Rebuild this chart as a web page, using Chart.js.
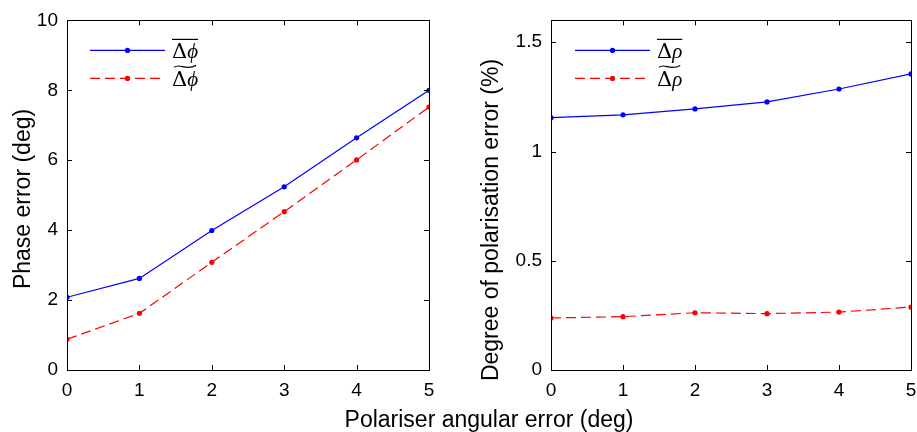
<!DOCTYPE html>
<html>
<head>
<meta charset="utf-8">
<script src="https://cdn.jsdelivr.net/npm/chart.js@4.4.1/dist/chart.umd.min.js"></script>
<style>
  html, body { margin: 0; padding: 0; background: #fff; }
  #wrap { position: relative; width: 917px; height: 432px; overflow: hidden; }
  #left-box { position: absolute; left: 0; top: 0; width: 460px; height: 432px; }
  #right-box { position: absolute; left: 460px; top: 0; width: 457px; height: 432px; }
  .label { position: absolute; font-family: "Liberation Sans", Arial, sans-serif; color: #000; white-space: nowrap; }
  #x-title {
    left: 489px; top: 406px; font-size: 23px; line-height: 26px; width: 400px; text-align: center;
    transform: translateX(-50%);
  }
  .y-title {
    font-size: 23px; line-height: 26px; height: 26px; width: 400px; text-align: center;
    transform: translate(-50%, -50%) rotate(-90deg);
  }
  #y-title-left { left: 22px; top: 199px; }
  #y-title-right { left: 490px; top: 220px; }
</style>
</head>
<body>
<div id="wrap">
  <div id="left-box"><canvas id="phase-chart" width="460" height="432"></canvas></div>
  <div id="right-box"><canvas id="dop-chart" width="457" height="432"></canvas></div>
  <div id="x-title" class="label">Polariser angular error (deg)</div>
  <div id="y-title-left" class="label y-title">Phase error (deg)</div>
  <div id="y-title-right" class="label y-title">Degree of polarisation error (%)</div>
</div>
<script>
// polariser angular error (deg)
const angles = [0, 1, 2, 3, 4, 5];

// phase error (deg)
const phaseMean = [2.08, 2.62, 3.99, 5.24, 6.64, 8.0];
const phaseMedian = [0.88, 1.62, 3.08, 4.53, 6.01, 7.52];
const phaseTicks = [0, 2, 4, 6, 8, 10];

// degree of polarisation error (%)
const dopMean = [1.155, 1.168, 1.195, 1.227, 1.286, 1.355];
const dopMedian = [0.238, 0.244, 0.262, 0.258, 0.265, 0.288];
const dopTicks = [0, 0.5, 1, 1.5];

const FONT = '"Liberation Sans", Arial, sans-serif';

// box around the plot with inward ticks on all four sides
const boxTicks = {
    id: 'boxTicks',
    afterDraw(chart, args, opts) {
        const ctx = chart.ctx;
        const a = chart.chartArea;
        const xs = chart.scales.x, ys = chart.scales.y;
        const len = 5;
        ctx.save();
        ctx.strokeStyle = '#000';
        ctx.lineWidth = 1;
        ctx.strokeRect(Math.round(a.left) + 0.5, Math.round(a.top) + 0.5,
            Math.round(a.right - a.left), Math.round(a.bottom - a.top));
        ctx.beginPath();
        xs.ticks.forEach(t => {
            const px = Math.round(xs.getPixelForValue(t.value)) + 0.5;
            ctx.moveTo(px, a.bottom); ctx.lineTo(px, a.bottom - len);
            ctx.moveTo(px, a.top); ctx.lineTo(px, a.top + len);
        });
        ys.ticks.forEach(t => {
            const py = Math.round(ys.getPixelForValue(t.value)) + 0.5;
            ctx.moveTo(a.left, py); ctx.lineTo(a.left + len, py);
            ctx.moveTo(a.right, py); ctx.lineTo(a.right - len, py);
        });
        ctx.stroke();
        ctx.restore();
    }
};

// legend with overline / tilde symbols
const mathLegend = {
    id: 'mathLegend',
    afterDraw(chart, args, opts) {
        const ctx = chart.ctx;
        const a = chart.chartArea;
        const x0 = a.left + opts.dx, x1 = x0 + 75;
        ctx.save();
        chart.data.datasets.forEach((ds, i) => {
            const y = a.top + opts.dy + i * 28;
            ctx.strokeStyle = ds.borderColor;
            ctx.lineWidth = 1.2;
            ctx.setLineDash(ds.borderDash || []);
            ctx.beginPath(); ctx.moveTo(x0, y); ctx.lineTo(x1, y); ctx.stroke();
            ctx.setLineDash([]);
            ctx.fillStyle = ds.borderColor;
            ctx.beginPath(); ctx.arc((x0 + x1) / 2, y, 2.6, 0, Math.PI * 2); ctx.fill();

            const tx = x1 + 7;
            ctx.fillStyle = '#000';
            ctx.textBaseline = 'alphabetic';
            ctx.font = '21px "DejaVu Serif", serif';
            ctx.fillText('\u0394', tx, y + 8);
            const dw = ctx.measureText('\u0394').width;
            ctx.font = 'italic 21px "Liberation Serif", serif';
            ctx.fillText(opts.symbol, tx + dw, y + 8);
            const sw = ctx.measureText(opts.symbol).width;
            const w = dw + sw;
            ctx.strokeStyle = '#000';
            ctx.lineWidth = 1.2;
            ctx.beginPath();
            if (i === 0) {
                ctx.moveTo(tx, y - 11); ctx.lineTo(tx + w, y - 11);
            } else {
                const ty = y - 12;
                ctx.moveTo(tx + 2, ty + 1);
                ctx.bezierCurveTo(tx + w * 0.3, ty - 4, tx + w * 0.5, ty + 5, tx + w - 2, ty - 1);
            }
            ctx.stroke();
        });
        ctx.restore();
    }
};

function makeChart(id, mean, median, yMax, ticks, opts) {
    return new Chart(document.getElementById(id), {
        type: 'line',
        data: {
            datasets: [{
                data: angles.map((x, i) => ({ x: x, y: mean[i] })),
                borderColor: '#0000ff', backgroundColor: '#0000ff',
                borderWidth: 1.2, pointRadius: 2.6, pointBorderWidth: 0, tension: 0
            }, {
                data: angles.map((x, i) => ({ x: x, y: median[i] })),
                borderColor: '#ff0000', backgroundColor: '#ff0000',
                borderWidth: 1.2, borderDash: [10, 5], pointRadius: 2.6, pointBorderWidth: 0, tension: 0
            }]
        },
        options: {
            responsive: false,
            animation: false,
            layout: { padding: { top: 19, right: opts.padRight, left: 0, bottom: 0 } },
            plugins: {
                legend: { display: false },
                tooltip: { enabled: false },
                mathLegend: { dx: opts.legDx, dy: 30, symbol: opts.symbol }
            },
            scales: {
                x: {
                    type: 'linear', min: 0, max: 5,
                    afterFit: s => { s.height = 62; s.paddingLeft = 0; s.paddingRight = 0; },
                    afterBuildTicks: s => { s.ticks = angles.map(v => ({ value: v })); },
                    grid: { display: false, drawTicks: false },
                    border: { display: false },
                    ticks: { color: '#000', padding: 9, font: { family: FONT, size: 19 } }
                },
                y: {
                    type: 'linear', min: 0, max: yMax,
                    afterFit: s => { s.width = opts.yWidth; },
                    afterBuildTicks: s => { s.ticks = ticks.map(v => ({ value: v })); },
                    grid: { display: false, drawTicks: false },
                    border: { display: false },
                    ticks: {
                        color: '#000', padding: 9, font: { family: FONT, size: 19 },
                        callback: v => String(v)
                    }
                }
            }
        },
        plugins: [boxTicks, mathLegend]
    });
}

makeChart('phase-chart', phaseMean, phaseMedian, 10, phaseTicks,
    { padRight: 31, yWidth: 67, legDx: 23, symbol: '\u03d5' });
makeChart('dop-chart', dopMean, dopMedian, 1.6, dopTicks,
    { padRight: 6, yWidth: 91, legDx: 24, symbol: '\u03c1' });
</script>
</body>
</html>
